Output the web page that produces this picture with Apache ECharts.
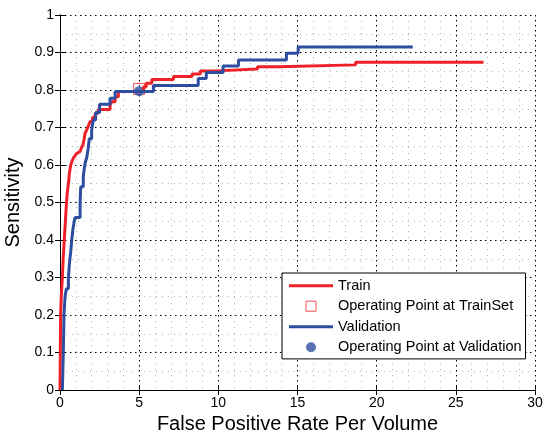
<!DOCTYPE html>
<html>
<head>
<meta charset="utf-8">
<script src="https://cdn.jsdelivr.net/npm/echarts@6/dist/echarts.min.js"></script>
<style>
  html, body { margin: 0; padding: 0; background: #fff; }
  #main { width: 544px; height: 431px; }
</style>
</head>
<body>
<div id="main"></div>
<script>
    // ROC-like curves
    var trainFpr = [0, 0.02, 0.04, 0.08, 0.15, 0.2, 0.27, 0.34, 0.41, 0.47, 0.53, 0.6, 0.68, 0.76, 0.84, 0.95,
        1.06, 1.17, 1.27, 1.36, 1.44, 1.52, 1.58, 1.7, 1.8, 1.9, 2.05, 2.22, 2.42, 3.16, 3.27, 3.48, 3.69,
        5.27, 5.44, 5.8, 7.17, 8.34, 8.86, 9.92, 12.47, 13.8, 18.67, 26.75];
    var trainSens = [0, 0.1, 0.2, 0.25, 0.3, 0.35, 0.4, 0.45, 0.5, 0.53, 0.55, 0.58, 0.6, 0.61, 0.618, 0.625,
        0.631, 0.636, 0.64, 0.647, 0.653, 0.668, 0.684, 0.695, 0.705, 0.716, 0.727, 0.738, 0.748, 0.76, 0.769, 0.782, 0.796,
        0.808, 0.818, 0.828, 0.836, 0.843, 0.851, 0.856, 0.862, 0.867, 0.874, 0.874];

    var valFpr = [0.15, 0.18, 0.21, 0.23, 0.25, 0.32, 0.4, 0.53, 0.6, 0.68, 0.74, 0.82, 0.9, 0.95,
        1.27, 1.31, 1.47, 1.58, 1.69, 1.78, 1.85, 2.0, 2.1, 2.25, 2.5, 3.16, 3.48,
        5.9, 8.73, 9.24, 10.3, 11.27, 14.3, 15.04, 22.28];
    var valSens = [0, 0.05, 0.1, 0.15, 0.2, 0.25, 0.27, 0.3, 0.34, 0.37, 0.4, 0.43, 0.45, 0.46,
        0.5, 0.542, 0.57, 0.604, 0.62, 0.644, 0.67, 0.693, 0.72, 0.74, 0.762, 0.778, 0.796,
        0.812, 0.831, 0.847, 0.864, 0.88, 0.898, 0.915, 0.915];

    var opTrain = [5, 0.803];
    var opVal = [5, 0.797];

    var xTicks = [0, 30, 5];   // min, max, step
    var yTicks = [0, 1, 0.1];

    var RED = '#ee2128';
    var BLUE = '#2d4ea0';
    var FONT = 'Liberation Sans';
    var BAR_ICON = 'path://M0,0H44V3H0Z';

    function pairs(xs, ys) {
        var out = [];
        for (var i = 0; i < xs.length; ++i) {
            out.push([xs[i], ys[i]]);
        }
        return out;
    }

    var tickStyle = { show: true, inside: true, length: 5, lineStyle: { color: '#000' } };
    var lineStyle = { show: true, lineStyle: { color: '#000', width: 1 } };

    option = {
        backgroundColor: '#fff',
        animation: false,
        grid: { left: 60, right: 9, top: 15, bottom: 41, outerBoundsMode: 'none' },
        legend: {
            orient: 'vertical',
            left: 282, top: 273,
            padding: [4.7, 4, 3.7, 7],
            itemGap: 4.5,
            itemWidth: 44, itemHeight: 10,
            backgroundColor: '#fff',
            borderColor: '#000', borderWidth: 1, borderRadius: 0,
            textStyle: { color: '#000', fontSize: 14.5, fontFamily: FONT, lineHeight: 16 },
            data: [
                { name: 'Train', icon: BAR_ICON, itemStyle: { color: RED } },
                { name: 'Operating Point at TrainSet', icon: 'path://M0,0H10V10H0Z',
                  itemStyle: { color: 'none', borderColor: RED, borderWidth: 1 } },
                { name: 'Validation', icon: BAR_ICON, itemStyle: { color: BLUE } },
                { name: 'Operating Point at Validation', icon: 'circle', itemStyle: { color: BLUE } }
            ]
        },
        xAxis: [{
            type: 'value', min: xTicks[0], max: xTicks[1], interval: xTicks[2],
            name: 'False Positive Rate Per Volume', nameLocation: 'middle', nameGap: 22,
            nameTextStyle: { color: '#000', fontSize: 20, fontFamily: FONT },
            axisLine: lineStyle, axisTick: tickStyle,
            axisLabel: { color: '#000', fontSize: 14, fontFamily: FONT, margin: 6 },
            splitLine: { show: true, lineStyle: { color: '#000', type: [1.5, 3.5], width: 1 } },
            minorTick: { show: false, splitNumber: 5 },
            minorSplitLine: { show: true, lineStyle: { color: '#b4b4b4', type: [1, 5], width: 1 } }
        }, {
            type: 'value', position: 'top', min: xTicks[0], max: xTicks[1], interval: xTicks[2],
            axisLine: lineStyle, axisTick: tickStyle,
            axisLabel: { show: false }, splitLine: { show: false }
        }],
        yAxis: [{
            type: 'value', min: yTicks[0], max: yTicks[1], interval: yTicks[2],
            name: 'Sensitivity', nameLocation: 'middle', nameGap: 35,
            nameTextStyle: { color: '#000', fontSize: 20, fontFamily: FONT },
            axisLine: lineStyle, axisTick: tickStyle,
            axisLabel: { color: '#000', fontSize: 14, fontFamily: FONT, margin: 6 },
            splitLine: { show: true, lineStyle: { color: '#000', type: [1.5, 3.5], width: 1 } },
            minorTick: { show: false, splitNumber: 2 },
            minorSplitLine: { show: true, lineStyle: { color: '#b4b4b4', type: [1, 5], width: 1 } }
        }, {
            type: 'value', position: 'right', min: yTicks[0], max: yTicks[1], interval: yTicks[2],
            axisLine: lineStyle, axisTick: tickStyle,
            axisLabel: { show: false }, splitLine: { show: false }
        }],
        series: [
            {
                name: 'Train', type: 'line', step: 'end', symbol: 'none',
                data: pairs(trainFpr, trainSens),
                lineStyle: { color: RED, width: 3 }, itemStyle: { color: RED }
            },
            {
                name: 'Operating Point at TrainSet', type: 'scatter', symbol: 'rect', symbolSize: 11,
                data: [opTrain],
                itemStyle: { color: 'none', borderColor: RED, borderWidth: 1 }
            },
            {
                name: 'Validation', type: 'line', step: 'end', symbol: 'none',
                data: pairs(valFpr, valSens),
                lineStyle: { color: BLUE, width: 3 }, itemStyle: { color: BLUE }
            },
            {
                name: 'Operating Point at Validation', type: 'scatter', symbol: 'circle', symbolSize: 10,
                data: [opVal],
                itemStyle: { color: BLUE }
            }
        ]
    };

    var myChart = echarts.init(document.getElementById('main'));
    myChart.setOption(option);
</script>
</body>
</html>
